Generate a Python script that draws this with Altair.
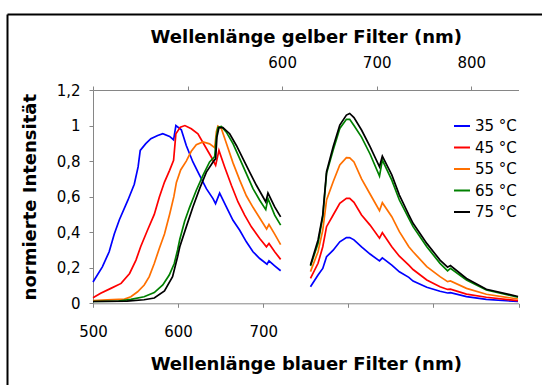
import altair as alt
import pandas as pd

FONT = "DejaVu Sans"
temps = ["35 °C", "45 °C", "55 °C", "65 °C", "75 °C"]
colors = ["#0000FF", "#FF0000", "#FF7000", "#008000", "#000000"]

# ---- blue filter (bottom axis) ----
blue_L_nm = [500, 511, 519, 525, 531, 541, 548.5, 553, 555.5, 562, 568, 576, 582, 590, 594.7, 597.4,
             603.8, 609.6, 617.4, 625.3, 633.2, 641, 644, 648.8, 656.7, 664.5, 672.4, 680.2, 688,
             695.9, 704.5, 706.8, 713.5, 720.5]
blue_L_val = [0.12, 0.205, 0.29, 0.39, 0.47, 0.58, 0.67, 0.767, 0.86, 0.898, 0.926, 0.944, 0.954, 0.939,
              0.92, 1.0, 0.976, 0.888, 0.795, 0.72, 0.645, 0.589, 0.561, 0.62, 0.542, 0.467, 0.411,
              0.346, 0.29, 0.252, 0.22, 0.239, 0.211, 0.183]
red_L_nm = [500, 509, 521, 533, 543, 550.5, 556, 564, 572, 578, 584, 590, 594.7, 597.4, 602.6, 608,
            615.5, 623.3, 631.2, 639, 644.1, 648, 654.7, 662.6, 670.4, 678.2, 686.1, 695.9, 703.8,
            706.8, 713.5, 720.5]
red_L_val = [0.031, 0.056, 0.084, 0.112, 0.168, 0.243, 0.318, 0.411, 0.5, 0.598, 0.682, 0.748, 0.804,
             0.954, 0.991, 1.0, 0.982, 0.954, 0.888, 0.823, 0.776, 0.86, 0.767, 0.664, 0.57, 0.496,
             0.43, 0.365, 0.318, 0.337, 0.29, 0.247]
orange_L_nm = [500, 517, 537, 544.5, 552.4, 560.2, 566.1, 572, 578, 584, 590, 595, 598, 603, 609.6,
               615.5, 621.4, 629.2, 637, 643, 645, 646.8, 650.8, 656.7, 664.5, 672.4, 680.2, 688,
               695.9, 704, 706.8, 713.5, 720.5]
orange_L_val = [0.015, 0.019, 0.024, 0.037, 0.065, 0.103, 0.15, 0.224, 0.31, 0.39, 0.5, 0.6, 0.68,
                0.75, 0.8, 0.855, 0.892, 0.908, 0.897, 0.875, 0.965, 0.997, 0.983, 0.9, 0.79, 0.693,
                0.605, 0.54, 0.48, 0.418, 0.443, 0.389, 0.33]
green_L_nm = [500, 530, 544.5, 560, 572, 582, 589.6, 595.5, 599.4, 602, 607.6, 613.5, 621.4, 629.2,
              637, 643, 645, 646.8, 650.8, 656.7, 664.5, 672.4, 680.2, 688, 695.9, 703, 705.6, 713.5,
              720.5]
green_L_val = [0.01, 0.012, 0.022, 0.037, 0.06, 0.103, 0.159, 0.224, 0.3, 0.36, 0.46, 0.54, 0.636,
               0.72, 0.795, 0.825, 0.935, 0.99, 0.995, 0.963, 0.898, 0.814, 0.73, 0.645, 0.58, 0.527,
               0.589, 0.496, 0.44]
black_L_nm = [500, 540, 560, 572, 584, 593.5, 599.4, 602, 609.6, 617.4, 625.3, 633.2, 641, 644.1,
              645.6, 648, 652.7, 660.6, 668.5, 676.2, 684.1, 692, 699.8, 703, 705.6, 713.5, 720.5]
black_L_val = [0.01, 0.012, 0.02, 0.03, 0.07, 0.15, 0.262, 0.318, 0.43, 0.542, 0.645, 0.738, 0.795,
               0.814, 0.935, 0.988, 0.988, 0.954, 0.888, 0.814, 0.738, 0.664, 0.598, 0.57, 0.62,
               0.542, 0.486]

# ---- yellow filter (top axis) ----
R_nm = [630, 638, 643, 647, 654, 661, 668, 671.5, 676, 684, 693, 703, 706, 716, 724, 734, 738.5,
        753, 767, 775, 778, 795, 816, 849.5]
blue_R = [0.093, 0.159, 0.196, 0.262, 0.299, 0.346, 0.37, 0.37, 0.357, 0.318, 0.277, 0.239, 0.256,
          0.215, 0.177, 0.146, 0.125, 0.09, 0.068, 0.058, 0.06, 0.038, 0.022, 0.01]
red_R = [0.14, 0.225, 0.318, 0.431, 0.497, 0.562, 0.59, 0.59, 0.568, 0.497, 0.44, 0.366, 0.397,
         0.318, 0.265, 0.215, 0.19, 0.131, 0.093, 0.078, 0.08, 0.052, 0.034, 0.015]
orange_R = [0.178, 0.29, 0.412, 0.581, 0.684, 0.778, 0.819, 0.818, 0.795, 0.7, 0.615, 0.521, 0.566,
            0.487, 0.403, 0.318, 0.29, 0.206, 0.15, 0.122, 0.126, 0.084, 0.051, 0.024]
green_R = [0.21, 0.337, 0.487, 0.731, 0.862, 0.984, 1.035, 1.035, 1.0, 0.935, 0.84, 0.716, 0.806,
           0.693, 0.581, 0.478, 0.431, 0.318, 0.225, 0.183, 0.197, 0.131, 0.075, 0.034]
black_R = [0.215, 0.356, 0.497, 0.74, 0.881, 1.003, 1.059, 1.068, 1.045, 0.975, 0.881, 0.768, 0.828,
           0.722, 0.609, 0.497, 0.45, 0.337, 0.243, 0.203, 0.212, 0.14, 0.079, 0.038]

left_series = [(blue_L_nm, blue_L_val), (red_L_nm, red_L_val), (orange_L_nm, orange_L_val),
               (green_L_nm, green_L_val), (black_L_nm, black_L_val)]
right_series = [blue_R, red_R, orange_R, green_R, black_R]

rows = []
for t, (xs, ys) in zip(temps, left_series):
    for x, y in zip(xs, ys):
        rows.append({"nm": x, "val": y, "temp": t})
df_left = pd.DataFrame(rows)
rows = []
for t, ys in zip(temps, right_series):
    for x, y in zip(R_nm, ys):
        rows.append({"nm": x, "val": y, "temp": t})
df_right = pd.DataFrame(rows)

W, H = 425.5, 213.3

y_enc = alt.Y("val:Q", scale=alt.Scale(domain=[0, 1.2], nice=False),
              axis=alt.Axis(values=[0, 0.2, 0.4, 0.6, 0.8, 1.0, 1.2],
                            labelExpr="replace(format(datum.value, '.1~f'), '.', ',')",
                            title="normierte Intensität", grid=False, tickSize=4, labelPadding=9,
                            labelFlush=False,
                            titleX=-63, titleY=H / 2, titleBaseline="middle", titleAlign="center",
                            titleAngle=270))
color_enc = alt.Color("temp:N", scale=alt.Scale(domain=temps, range=colors),
                      legend=alt.Legend(title=None, orient="none", legendX=360, legendY=27,
                                        symbolType="stroke", symbolSize=256, symbolStrokeWidth=2,
                                        labelFontSize=15, labelFont=FONT, labelColor="black",
                                        rowPadding=4.5, labelOffset=4, padding=0))

left = alt.Chart(df_left).mark_line(strokeWidth=1.7).encode(
    x=alt.X("nm:Q", scale=alt.Scale(domain=[500, 1000], nice=False, zero=False),
            axis=alt.Axis(orient="bottom", values=[500, 600, 700, 800, 900, 1000],
                          labelExpr="datum.value <= 700 ? datum.value + '' : ''",
                          labelFlush=False,
                          title="Wellenlänge blauer Filter (nm)", grid=False, tickSize=4,
                          labelPadding=17, titleY=66, titleBaseline="alphabetic")),
    y=y_enc, color=color_enc)

right = alt.Chart(df_right).mark_line(strokeWidth=1.7).encode(
    x=alt.X("nm:Q", scale=alt.Scale(domain=[400, 850], nice=False, zero=False),
            axis=alt.Axis(orient="top", values=[400, 500, 600, 700, 800],
                          labelExpr="datum.value >= 600 ? datum.value + '' : ''",
                          labelFlush=False,
                          title="Wellenlänge gelber Filter (nm)", grid=False, tickSize=4,
                          labelPadding=15.5, titleY=-48, titleBaseline="alphabetic")),
    y=y_enc, color=color_enc)

frame = pd.DataFrame({"k": [0]})
border_left = alt.Chart(frame).mark_rule(color="#000000", strokeWidth=2).encode(
    x=alt.value(-85.5), y=alt.value(-75.5), y2=alt.value(H + 90))
border_top = alt.Chart(frame).mark_rule(color="#000000", strokeWidth=2).encode(
    x=alt.value(-85.5), x2=alt.value(W + 30), y=alt.value(-75.5))

chart = alt.layer(left, right, border_left, border_top).resolve_scale(
    x="independent"
).properties(
    width=W, height=H,
    padding={"left": 93, "top": 90, "right": 23.5, "bottom": 81.7},
    autosize=alt.AutoSizeParams(type="none"),
    background="white",
).configure_view(strokeWidth=0).configure_axis(
    domainColor="#868686", tickColor="#868686", domainWidth=1, tickWidth=1,
    labelFont=FONT, labelFontSize=15, labelColor="black",
    titleFont=FONT, titleFontSize=18, titleFontWeight="bold", titleColor="black",
)

chart.save("out.html", embed_options={"renderer": "svg", "actions": False})
